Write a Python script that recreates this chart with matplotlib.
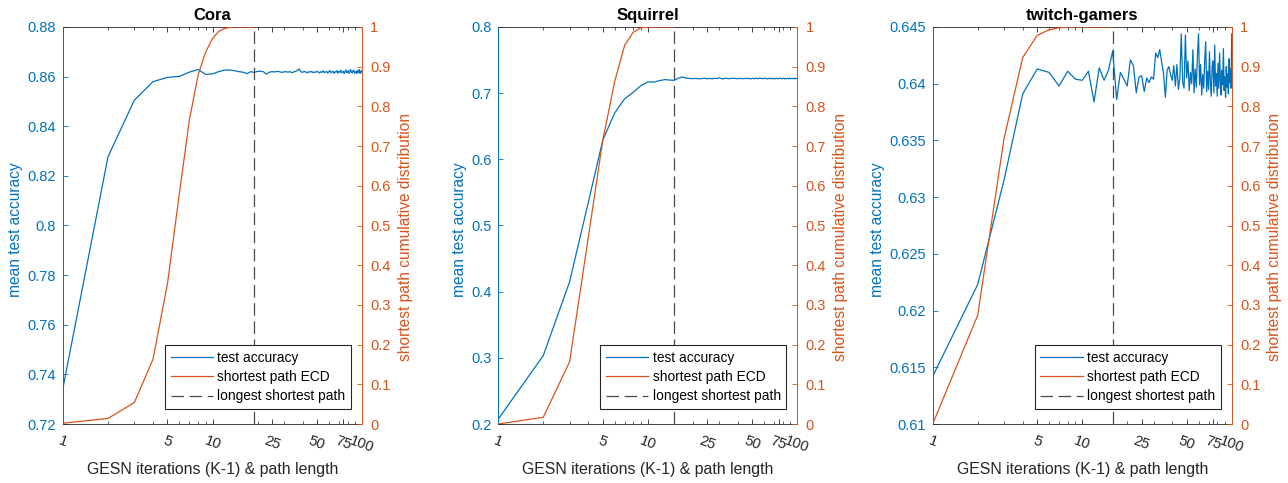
import matplotlib.pyplot as plt
from matplotlib.ticker import FixedLocator, FuncFormatter
from matplotlib.lines import Line2D

plt.rcParams['font.family'] = ['Liberation Sans', 'DejaVu Sans']
plt.rcParams['font.size'] = 10.5

BLUE = '#0072BD'
ORANGE = '#D95319'
DARK = '#262626'

# GESN iterations 1..100
iterations = list(range(1, 101))

cora_acc = [
    0.7346, 0.8277, 0.8505, 0.8580, 0.8597, 0.8601, 0.8618, 0.8629, 0.8609, 0.8611,
    0.8620, 0.8626, 0.8627, 0.8624, 0.8620, 0.8618, 0.8612, 0.8620, 0.8617, 0.8621,
    0.8622, 0.8619, 0.8610, 0.8618, 0.8620, 0.8619, 0.8621, 0.8620, 0.8617, 0.8619,
    0.8620, 0.8618, 0.8620, 0.8616, 0.8619, 0.8621, 0.8626, 0.8631, 0.8620, 0.8617,
    0.8621, 0.8619, 0.8615, 0.8620, 0.8618, 0.8621, 0.8616, 0.8619, 0.8617, 0.8622,
    0.8618, 0.8615, 0.8620, 0.8617, 0.8624, 0.8616, 0.8619, 0.8621, 0.8614, 0.8620,
    0.8625, 0.8615, 0.8619, 0.8622, 0.8613, 0.8620, 0.8618, 0.8624, 0.8614, 0.8621,
    0.8617, 0.8626, 0.8615, 0.8619, 0.8622, 0.8612, 0.8620, 0.8627, 0.8616, 0.8618,
    0.8624, 0.8613, 0.8621, 0.8629, 0.8617, 0.8615, 0.8623, 0.8626, 0.8614, 0.8620,
    0.8618, 0.8612, 0.8625, 0.8616, 0.8621, 0.8628, 0.8613, 0.8619, 0.8624, 0.8617,
]

squirrel_acc = [
    0.2075, 0.3035, 0.4150, 0.5350, 0.6290, 0.6700, 0.6915, 0.7015, 0.7115, 0.7170,
    0.7168, 0.7190, 0.7205, 0.7198, 0.7194, 0.7225, 0.7245, 0.7228, 0.7222, 0.7220,
    0.7223, 0.7218, 0.7221, 0.7224, 0.7219, 0.7222, 0.7217, 0.7225, 0.7220, 0.7233,
    0.7221, 0.7215, 0.7226, 0.7222, 0.7219, 0.7224, 0.7221, 0.7228, 0.7218, 0.7222,
    0.7220, 0.7225, 0.7217, 0.7223, 0.7220, 0.7226, 0.7219, 0.7222, 0.7216, 0.7224,
    0.7221, 0.7219, 0.7227, 0.7218, 0.7223, 0.7231, 0.7220, 0.7225, 0.7217, 0.7222,
    0.7228, 0.7219, 0.7214, 0.7223, 0.7220, 0.7226, 0.7218, 0.7221, 0.7224, 0.7216,
    0.7222, 0.7219, 0.7225, 0.7221, 0.7217, 0.7223, 0.7229, 0.7218, 0.7222, 0.7220,
    0.7226, 0.7215, 0.7223, 0.7221, 0.7219, 0.7225, 0.7218, 0.7222, 0.7227, 0.7216,
    0.7221, 0.7224, 0.7219, 0.7223, 0.7217, 0.7226, 0.7220, 0.7222, 0.7218, 0.7224,
]

twitch_acc = [
    0.6142, 0.6223, 0.6315, 0.6391, 0.6413, 0.6410, 0.6398, 0.6411, 0.6404, 0.6403,
    0.6411, 0.6384, 0.6414, 0.6403, 0.6412, 0.6429, 0.6386, 0.6410, 0.6404, 0.6398,
    0.6421, 0.6416, 0.6392, 0.6406, 0.6407, 0.6393, 0.6405, 0.6401, 0.6406, 0.6404,
    0.6427, 0.6423, 0.6430, 0.6419, 0.6409, 0.6388, 0.6412, 0.6415, 0.6408, 0.6403,
    0.6416, 0.6398, 0.6417, 0.6395, 0.6405, 0.6444, 0.6401, 0.6396, 0.6443, 0.6405,
    0.6420, 0.6394, 0.6410, 0.6400, 0.6430, 0.6392, 0.6413, 0.6397, 0.6425, 0.6444,
    0.6399, 0.6417, 0.6390, 0.6408, 0.6396, 0.6421, 0.6437, 0.6393, 0.6411, 0.6395,
    0.6428, 0.6401, 0.6389, 0.6415, 0.6420, 0.6392, 0.6434, 0.6398, 0.6409, 0.6389,
    0.6418, 0.6396, 0.6427, 0.6403, 0.6390, 0.6412, 0.6399, 0.6431, 0.6394, 0.6406,
    0.6388, 0.6415, 0.6397, 0.6409, 0.6391, 0.6422, 0.6401, 0.6413, 0.6396, 0.6444,
]

# shortest path empirical cumulative distribution (path length 1..diameter)
cora_ecd = [0.002, 0.014, 0.054, 0.163, 0.354, 0.58, 0.765, 0.878, 0.937, 0.971,
            0.989, 0.996, 0.999, 1.0, 1.0, 1.0, 1.0, 1.0, 1.0]
squirrel_ecd = [0.0, 0.017, 0.157, 0.47, 0.715, 0.862, 0.954, 0.987, 0.998, 1.0,
                1.0, 1.0, 1.0, 1.0, 1.0]
twitch_ecd = [0.0, 0.274, 0.719, 0.923, 0.979, 0.993, 0.998, 1.0, 1.0, 1.0,
              1.0, 1.0, 1.0, 1.0, 1.0, 1.0]

titles = ['Cora', 'Squirrel', 'twitch-gamers']
longest_path = [19, 15, 16]
acc_limits = [(0.72, 0.88), (0.2, 0.8), (0.61, 0.645)]
acc_ticks = [
    [0.72, 0.74, 0.76, 0.78, 0.80, 0.82, 0.84, 0.86, 0.88],
    [0.2, 0.3, 0.4, 0.5, 0.6, 0.7, 0.8],
    [0.61, 0.615, 0.62, 0.625, 0.63, 0.635, 0.64, 0.645],
]
x_major = [1, 5, 10, 25, 50, 75, 100]
x_minor = [2, 3, 4, 6, 7, 8, 9, 20, 30, 40, 60, 70, 80, 90]
ecd_ticks = [0, 0.1, 0.2, 0.3, 0.4, 0.5, 0.6, 0.7, 0.8, 0.9, 1.0]

accs = [cora_acc, squirrel_acc, twitch_acc]
ecds = [cora_ecd, squirrel_ecd, twitch_ecd]

fmt = FuncFormatter(lambda v, p: '{:g}'.format(round(v, 4)))

fig = plt.figure(figsize=(12.88, 4.83), dpi=100)
lefts = [63, 498.3, 932.7]
W, H = 1288.0, 483.0
dash_grey = '#4a4a4a'

for i in range(3):
    ax = fig.add_axes([lefts[i] / W, (H - 424) / H, 299 / W, 397 / H])
    ax2 = ax.twinx()

    l1, = ax.plot(iterations, accs[i], color=BLUE, lw=0.9)
    l2, = ax2.plot(list(range(1, len(ecds[i]) + 1)), ecds[i], color=ORANGE, lw=0.9)
    ax2.axvline(longest_path[i], color=dash_grey, lw=0.9, dashes=(10, 4.5))

    ax.set_xscale('log')
    ax.set_xlim(1, 100)
    ax.set_ylim(*acc_limits[i])
    ax2.set_ylim(0, 1)

    ax.xaxis.set_major_locator(FixedLocator(x_major))
    ax.xaxis.set_minor_locator(FixedLocator(x_minor))
    ax.set_xticklabels([str(v) for v in x_major], rotation=-20, ha='center',
                       color=DARK)
    ax.xaxis.set_minor_formatter(FuncFormatter(lambda v, p: ''))
    ax.set_yticks(acc_ticks[i])
    ax.yaxis.set_major_formatter(fmt)
    ax2.set_yticks(ecd_ticks)
    ax2.yaxis.set_major_formatter(fmt)

    ax.tick_params(axis='x', which='major', direction='in', length=3.5, width=0.6,
                   top=True, pad=7, colors=DARK)
    ax.tick_params(axis='x', which='minor', direction='in', length=2.2, width=0.5,
                   top=True, colors=DARK)
    ax.tick_params(axis='y', direction='in', length=3.5, width=0.6, colors=BLUE, pad=5)
    ax2.tick_params(axis='y', direction='in', length=3.5, width=0.6, colors=ORANGE, pad=6)

    for s in ['top', 'bottom']:
        ax.spines[s].set_color(DARK)
        ax.spines[s].set_linewidth(0.6)
        ax2.spines[s].set_visible(False)
    ax.spines['left'].set_color(BLUE)
    ax.spines['right'].set_visible(False)
    ax2.spines['left'].set_visible(False)
    ax2.spines['right'].set_color(ORANGE)
    ax.spines['left'].set_linewidth(0.7)
    ax2.spines['right'].set_linewidth(0.7)

    ax.set_title(titles[i], fontweight='bold', fontsize=12, pad=5)
    ax.set_xlabel('GESN iterations (K-1) & path length', color=DARK, labelpad=5,
                  fontsize=11.4)
    ax.set_ylabel('mean test accuracy', color=BLUE, labelpad=3, fontsize=11.2)
    ax2.set_ylabel('shortest path cumulative distribution', color=ORANGE, labelpad=5,
                   fontsize=11.2)
    ax.yaxis.label.set_y(0.49)
    ax2.yaxis.label.set_y(0.47)

    leg = ax2.legend([l1, l2, Line2D([], [], color=dash_grey, lw=0.9, dashes=(10, 4.5))],
                     ['test accuracy', 'shortest path ECD', 'longest shortest path'],
                     loc='lower right', bbox_to_anchor=(0.963, 0.038), borderaxespad=0,
                     fancybox=False, framealpha=1, edgecolor=DARK, handlelength=3.1,
                     handletextpad=0.3, labelspacing=0.38, borderpad=0.4, fontsize=9.9)
    leg.get_frame().set_linewidth(0.8)

fig.savefig('out.png', dpi=100)
